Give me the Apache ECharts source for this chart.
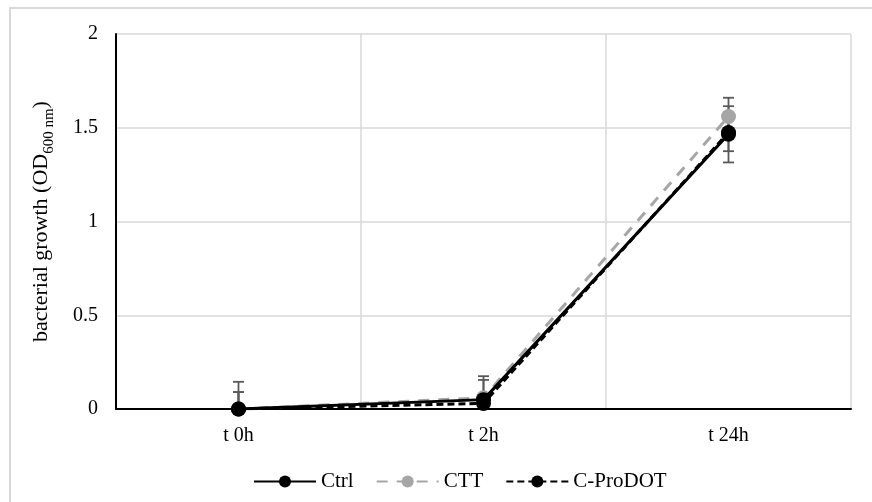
<!DOCTYPE html>
<html>
<head>
<meta charset="utf-8">
<style>
  html, body { margin: 0; padding: 0; background: #fff; }
  #chart { width: 872px; height: 502px; }
</style>
<script src="https://cdn.jsdelivr.net/npm/echarts@6/dist/echarts.min.js"></script>
</head>
<body>
<div id="chart"></div>
<script>
// Sampling times
const categories = ['t 0h', 't 2h', 't 24h'];

// Mean OD600 per condition
const ctrlValues = [0, 0.05, 1.465];
const cttValues = [0, 0.06, 1.56];
const prodotValues = [0, 0.03, 1.475];

// Standard deviations
const ctrlErrors = [0.145, 0.125, 0.15];
const cttErrors = [0.09, 0.095, 0.1];
const prodotErrors = [0.09, 0.05, 0.1];

// Y axis ticks
const yTicks = [0, 0.5, 1, 1.5, 2];

const FONT = '"Liberation Serif", "Times New Roman", serif';

const chart = echarts.init(document.getElementById('chart'));

function errorSeries(name, values, errors) {
  const data = values.map((v, i) => [i, Math.max(0, v - errors[i]), v + errors[i]]);
  return {
    type: 'custom',
    name: name + ' err',
    z: 1,
    silent: true,
    renderItem: function (params, api) {
      const x = api.value(0);
      const lo = api.coord([x, api.value(1)]);
      const hi = api.coord([x, api.value(2)]);
      const half = 5.5;
      const style = { stroke: '#595959', lineWidth: 1.8 };
      const children = [
        { type: 'line', shape: { x1: lo[0], y1: lo[1], x2: hi[0], y2: hi[1] }, style: style },
        { type: 'line', shape: { x1: hi[0] - half, y1: hi[1], x2: hi[0] + half, y2: hi[1] }, style: style }
      ];
      if (api.value(1) > 0) {
        children.push({ type: 'line', shape: { x1: lo[0] - half, y1: lo[1], x2: lo[0] + half, y2: lo[1] }, style: style });
      }
      return { type: 'group', children: children };
    },
    encode: { x: 0, y: [1, 2] },
    data: data
  };
}

const option = {
  animation: false,
  backgroundColor: '#ffffff',
  graphic: [{
    type: 'rect',
    shape: { x: 10, y: 8, width: 900, height: 600 },
    style: { fill: 'none', stroke: '#d9d9d9', lineWidth: 2 },
    z: -10
  }],
  grid: { left: 116, right: 21, top: 34, bottom: 93 },
  legend: {
    top: 466,
    left: 248,
    itemWidth: 62,
    itemHeight: 15,
    itemGap: 22,
    data: ['Ctrl', 'CTT', 'C-ProDOT'],
    textStyle: { fontFamily: FONT, fontSize: 21, color: '#000' }
  },
  xAxis: {
    type: 'category',
    data: categories,
    boundaryGap: true,
    axisLine: { lineStyle: { color: '#000', width: 2 } },
    axisTick: { show: false },
    splitLine: { show: true, interval: 0, lineStyle: { color: '#d9d9d9', width: 1.5 } },
    axisLabel: { fontFamily: FONT, fontSize: 20, color: '#000', margin: 17 }
  },
  yAxis: {
    type: 'value',
    min: yTicks[0],
    max: yTicks[yTicks.length - 1],
    interval: 0.5,
    axisLine: { show: true, lineStyle: { color: '#000', width: 2 } },
    axisTick: { show: false },
    splitLine: { lineStyle: { color: '#d9d9d9', width: 1.5 } },
    axisLabel: { fontFamily: FONT, fontSize: 20, color: '#000', margin: 18 },
    name: '{a|bacterial growth (OD}{s|600 nm}{a|)}',
    nameLocation: 'middle',
    nameGap: 64,
    nameRotate: 90,
    nameTextStyle: {
      rich: {
        a: { fontFamily: FONT, fontSize: 22, color: '#000', lineHeight: 28, verticalAlign: 'bottom' },
        s: { fontFamily: FONT, fontSize: 15, color: '#000', lineHeight: 28, verticalAlign: 'bottom', padding: [0, 0, -5, 0] }
      }
    }
  },
  series: [
    errorSeries('Ctrl', ctrlValues, ctrlErrors),
    errorSeries('CTT', cttValues, cttErrors),
    errorSeries('C-ProDOT', prodotValues, prodotErrors),
    {
      name: 'Ctrl',
      type: 'line',
      z: 3,
      data: ctrlValues,
      symbol: 'circle',
      symbolSize: 15,
      lineStyle: { color: '#000', width: 3 },
      itemStyle: { color: '#000' }
    },
    {
      name: 'CTT',
      type: 'line',
      z: 2,
      data: cttValues,
      symbol: 'circle',
      symbolSize: 15,
      lineStyle: { color: '#a6a6a6', width: 3, type: [11, 9] },
      itemStyle: { color: '#a6a6a6' }
    },
    {
      name: 'C-ProDOT',
      type: 'line',
      z: 4,
      data: prodotValues,
      symbol: 'circle',
      symbolSize: 15,
      lineStyle: { color: '#000', width: 3, type: [7, 4] },
      itemStyle: { color: '#000' }
    }
  ]
};

chart.setOption(option);
</script>
</body>
</html>
